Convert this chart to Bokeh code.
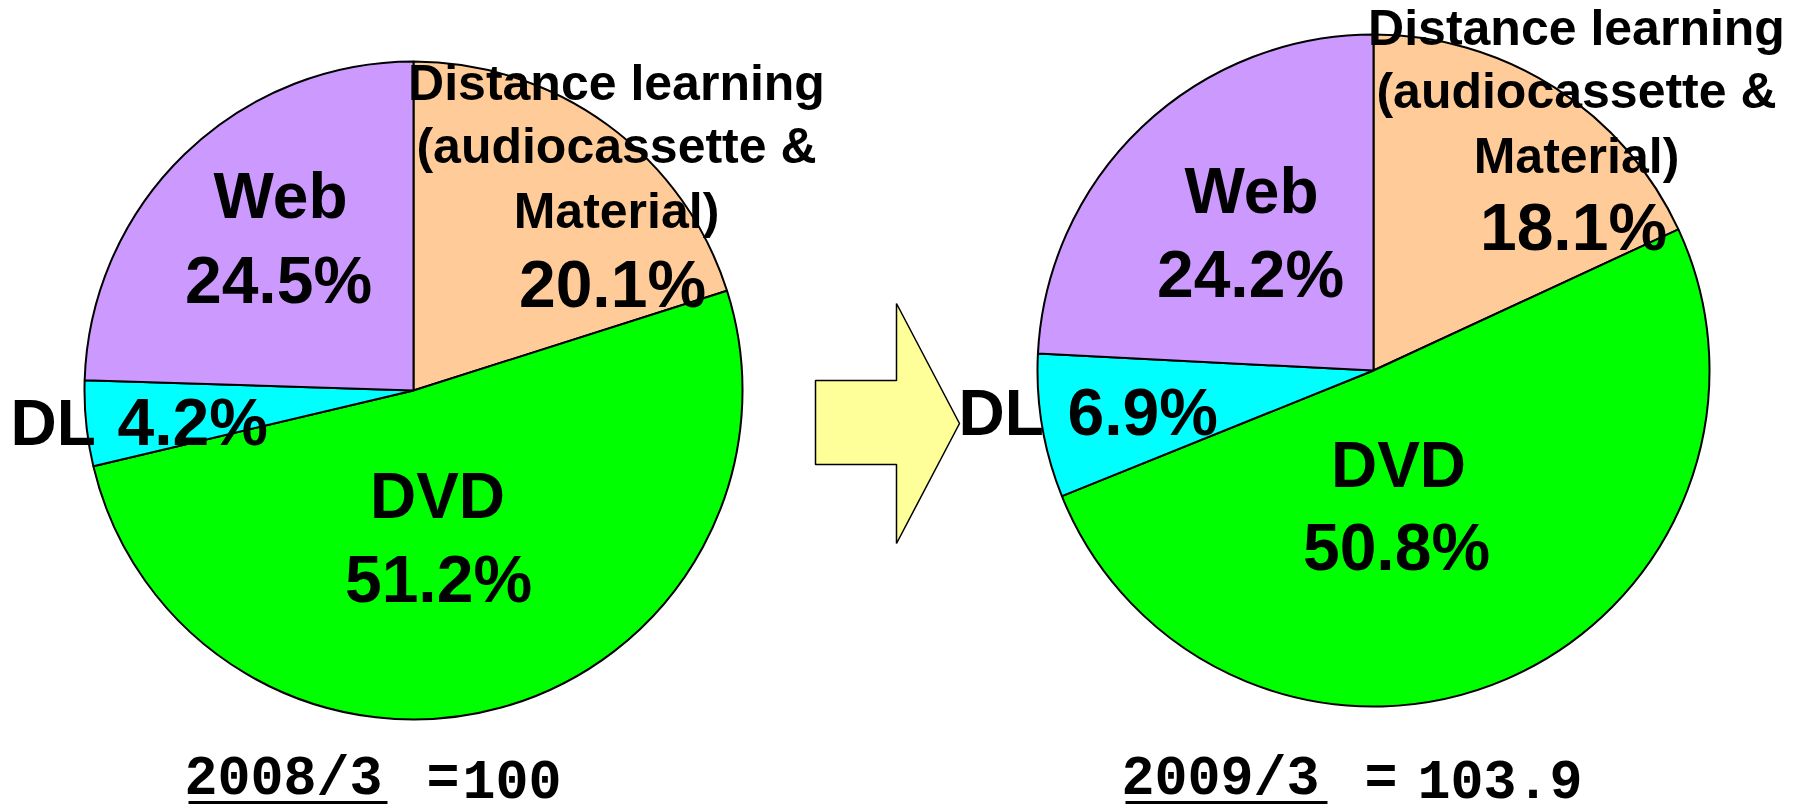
import math
from bokeh.plotting import figure
from bokeh.models import Range1d, ColumnDataSource
from bokeh.core.properties import value
from bokeh.embed import file_html
from bokeh.resources import INLINE

# ---------------- data ----------------
categories = ["Distance learning (audiocassette & Material)", "DVD", "DL", "Web"]
category_lines = [["Distance learning", "(audiocassette &", "Material)"], ["DVD"], ["DL"], ["Web"]]
shares_2008 = [20.1, 51.2, 4.2, 24.5]
shares_2009 = [18.1, 50.8, 6.9, 24.2]
slice_colors = ["#FFCC99", "#00FF00", "#00FFFF", "#CC99FF"]
periods = ["2008/3", "2009/3"]
index_values = ["100", "103.9"]

# ---------------- layout ----------------
W, H = 1790, 805
SH = 805


def Y(py):
    return SH - py


p = figure(width=W, height=H,
           x_range=Range1d(0, W), y_range=Range1d(SH - H, SH),
           output_backend="svg", toolbar_location=None,
           x_axis_location=None, y_axis_location=None,
           min_border=0, outline_line_color=None,
           background_fill_color="white", border_fill_color="white")
p.xgrid.visible = False
p.ygrid.visible = False

LABEL_FONT = value("Liberation Sans")
NAME_PX = 64
PCT_PX = 66
MID_PX = 50
MID_K = 0.35  # anchor = baseline - MID_K * size  (text_baseline="middle")


def mid(baseline, size):
    return Y(baseline - MID_K * size)


pies = [
    dict(cx=413, cy=390, r=329, shares=shares_2008,
         name_pos=[(616, [100, 163, 228]), (437, [518]), (10, [445]), (280, [218])],
         pct_pos=[(612, 307), (438, 602), (117, 445), (278, 303)]),
    dict(cx=1373, cy=370, r=336, shares=shares_2009,
         name_pos=[(1576, [45, 108, 173]), (1398, [487]), (958, [435]), (1251, [213])],
         pct_pos=[(1573, 250), (1396, 570), (1067, 435), (1250, 297)]),
]

# arrow between the pies (decorative)
arrow_x = [815, 896, 896, 959, 896, 896, 815]
arrow_y = [Y(v) for v in [380, 380, 303, 423, 543, 464, 464]]
p.patch(arrow_x, arrow_y, fill_color="#FFFF99", line_color="black", line_width=1.5)

for pie in pies:
    total = sum(pie["shares"])
    cum = 0.0
    xs, ys, rs, sa, ea, cols = [], [], [], [], [], []
    for share, col in zip(pie["shares"], slice_colors):
        f0 = cum / total
        cum += share
        f1 = cum / total
        xs.append(pie["cx"])
        ys.append(Y(pie["cy"]))
        rs.append(pie["r"])
        sa.append(math.pi / 2 - 2 * math.pi * f1)
        ea.append(math.pi / 2 - 2 * math.pi * f0)
        cols.append(col)
    src = ColumnDataSource(dict(x=xs, y=ys, r=rs, s=sa, e=ea, c=cols))
    p.wedge(x="x", y="y", radius="r", start_angle="s", end_angle="e",
            fill_color="c", line_color="black", line_width=2, source=src)

    # labels
    ml = dict(x=[], y=[], t=[])      # multi-line names, 50px centred
    nm = dict(x=[], y=[], t=[])      # names, centred
    pc = dict(x=[], y=[], t=[])      # percentages, centred
    nl = dict(x=[], y=[], t=[])      # names, left aligned (DL)
    pl = dict(x=[], y=[], t=[])      # percentages, left aligned (DL)
    for i, share in enumerate(pie["shares"]):
        pct = f"{share:.1f}%"
        nx, nbs = pie["name_pos"][i]
        px_, pb = pie["pct_pos"][i]
        lines = category_lines[i]
        left = categories[i] == "DL"
        if len(lines) > 1:
            for ln, b in zip(lines, nbs):
                ml["x"].append(nx); ml["y"].append(mid(b, MID_PX)); ml["t"].append(ln)
        else:
            d = nl if left else nm
            d["x"].append(nx); d["y"].append(mid(nbs[0], NAME_PX)); d["t"].append(lines[0])
        d = pl if left else pc
        d["x"].append(px_); d["y"].append(mid(pb, PCT_PX)); d["t"].append(pct)
    for d, align, size in [(ml, "center", MID_PX), (nm, "center", NAME_PX), (pc, "center", PCT_PX),
                           (nl, "left", NAME_PX), (pl, "left", PCT_PX)]:
        p.text(x=d["x"], y=d["y"], text=d["t"], text_align=align, text_baseline="middle",
               text_font=LABEL_FONT, text_font_style="bold", text_font_size=f"{size}px",
               text_color="black")

# bottom captions
BOT_PX = 55
BOT_FONT = value("Liberation Mono")
cap_base = 798
date_x = [184, 1121]
eq_x = [426, 1364]
val_x = [462, 1417]
ul = [(188, 387), (1125, 1327)]
for xs_, txt in [(date_x, periods), (eq_x, ["=", "="]), (val_x, index_values)]:
    p.text(x=xs_, y=[mid(cap_base, BOT_PX)] * 2, text=txt, text_align="left", text_baseline="middle",
           text_font=BOT_FONT, text_font_style="bold", text_font_size=f"{BOT_PX}px", text_color="black")
p.segment(x0=[u[0] for u in ul], y0=[Y(802)] * 2, x1=[u[1] for u in ul], y1=[Y(802)] * 2,
          line_color="black", line_width=3)

open("out.html", "w").write(file_html(p, INLINE))
